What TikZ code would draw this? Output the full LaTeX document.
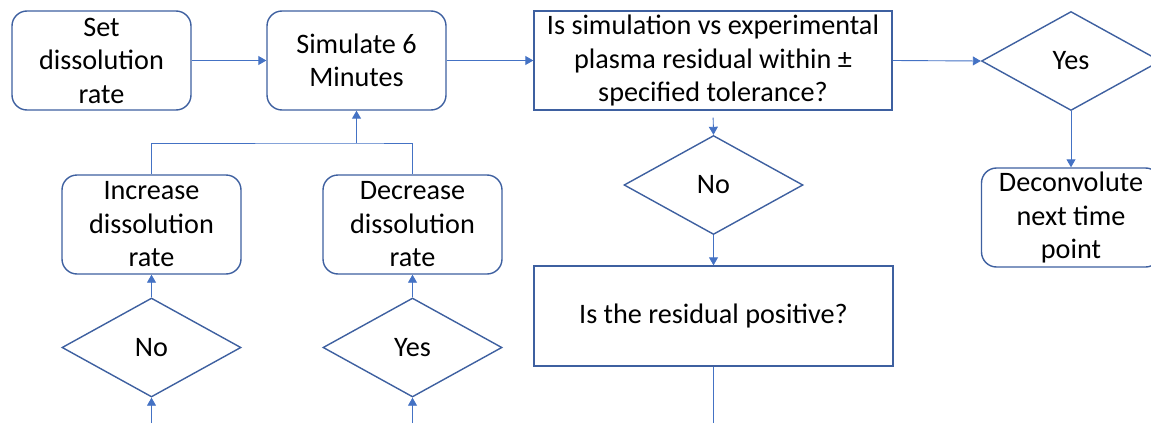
\documentclass[tikz,border=0pt]{standalone}
\usepackage{fontspec}
\setmainfont{Carlito}
\usetikzlibrary{shapes.geometric,arrows.meta}
\definecolor{edgeblue}{RGB}{62,96,160}
\definecolor{linkblue}{RGB}{68,114,196}
\tikzset{
  base/.style={draw=edgeblue, line width=1.4pt, fill=white, align=center, inner sep=0pt,
    font=\fontsize{28.2}{33.5}\selectfont, text=black},
  roundbox/.style={base, rectangle, rounded corners=15pt, minimum width=179pt, minimum height=99pt},
  sqbox/.style={base, rectangle, minimum height=99pt},
  choice/.style={base, diamond, aspect=1.8, minimum width=179pt, minimum height=99pt},
  link/.style={draw=linkblue, line width=0.9pt},
  arr/.style={link, -{Triangle[width=9pt,length=8pt]}}
}
\begin{document}
\begin{tikzpicture}[x=1pt,y=-1pt]
\useasboundingbox (0,0) rectangle (1151,423);
\clip (0,0) rectangle (1151,423);

% process boxes
\node[roundbox] (set)    at (101.5,60.5)  {Set\\dissolution\\rate};
\node[roundbox] (sim)    at (356.5,60.5)  {Simulate 6\\Minutes};
\node[sqbox, minimum width=358pt] (plasma) at (713,60.5)
  {Is simulation vs experimental\\plasma residual within ±\\specified tolerance?};
\node[choice]   (yesR)   at (1071,61)     {Yes};
\node[roundbox] (deconv) at (1071,217.5)  {Deconvolute\\next time\\point};

% adjustment branch
\node[roundbox] (inc)  at (151.5,224.5) {Increase\\dissolution\\rate};
\node[roundbox] (dec)  at (412.5,224.5) {Decrease\\dissolution\\rate};
\node[choice]   (noL)  at (151.5,347.5) {No};
\node[choice]   (yesL) at (412.5,347.5) {Yes};

% residual check
\node[choice] (noM) at (713.5,185) {No};
\node[sqbox, minimum width=359pt, minimum height=100pt] (resid) at (713.5,316)
  {Is the residual positive?};

% loose ends at the lower border
\coordinate (j)  at (356.5,143);
\coordinate (bl) at (151.5,423);
\coordinate (bm) at (412.5,423);
\coordinate (br) at (713.5,423);

% connectors
\draw[arr] (set.east) -- (sim.west);
\draw[arr] (sim.east) -- (plasma.west);
\draw[arr] (plasma.east) -- (yesR.west);
\draw[arr] (yesR.south) -- (deconv.north);
\draw[link] (inc.north) |- (j) -| (dec.north);
\draw[arr, line width=1.2pt] (j) -- (sim.south);
\draw[arr] (noL.north) -- (inc.south);
\draw[arr] (yesL.north) -- (dec.south);
\draw[arr] (bl) -- (noL.south);
\draw[arr] (bm) -- (yesL.south);
\draw[arr, shorten <=7pt] (plasma.south) -- (noM.north);
\draw[arr] (noM.south) -- (resid.north);
\draw[link] (resid.south) -- (br);
\end{tikzpicture}
\end{document}
